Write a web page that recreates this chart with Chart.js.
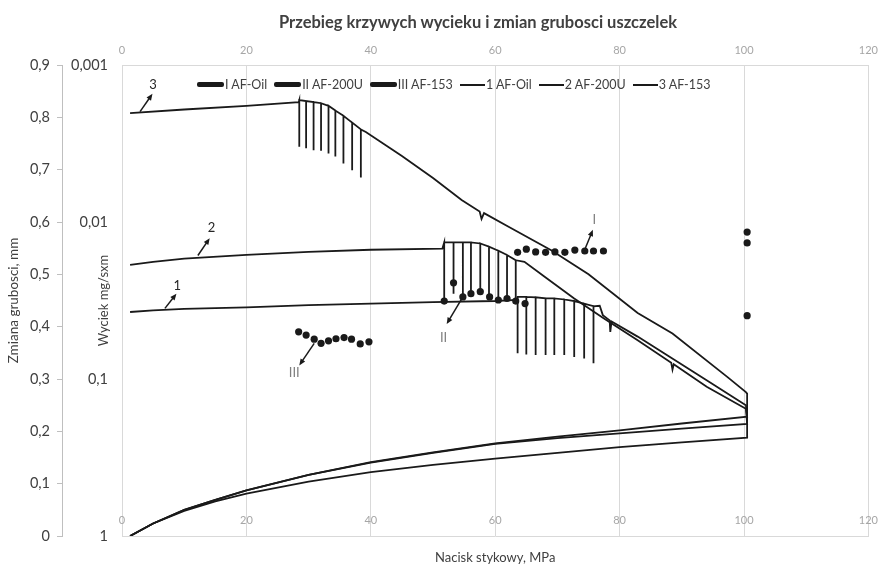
<!DOCTYPE html>
<html>
<head>
<meta charset="utf-8">
<script src="https://cdn.jsdelivr.net/npm/chart.js@4.4.1/dist/chart.umd.min.js"></script>
<style>
  html, body { margin: 0; padding: 0; background: #fff; overflow: hidden; }
  #wrap { position: relative; width: 887px; height: 567px; font-family: Lato, "Liberation Sans", sans-serif; }
  #title {
    position: absolute; top: 12px; left: 0; width: 956px; text-align: center;
    font-size: 16.5px; line-height: 20px; font-weight: bold; color: #404040;
  }
  #legend {
    position: absolute; top: 77px; left: 197px; display: flex; align-items: center;
    font-size: 12.5px; color: #404040; white-space: nowrap;
  }
  #legend .item { display: flex; align-items: center; margin-right: 7px; }
  #legend .thick { width: 27px; height: 5px; background: #1a1a1a; border-radius: 2px; margin-right: 1px; }
  #legend .thin { width: 25px; height: 2px; background: #1a1a1a; margin-right: 1px; }
</style>
</head>
<body>
<div id="wrap">
  <canvas id="chart" width="887" height="567"></canvas>
  <div id="title">Przebieg krzywych wycieku i zmian grubosci uszczelek</div>
  <div id="legend"></div>
</div>
<script>
// --- axis ticks ---
const thicknessTickLabels = ['0', '0,1', '0,2', '0,3', '0,4', '0,5', '0,6', '0,7', '0,8', '0,9'];
const leakTicks = [0.001, 0.01, 0.1, 1];
const leakTickLabels = ['0,001', '0,01', '0,1', '1'];

// --- thickness curves (left axis, mm) ---
// 1 AF-Oil
const oilHeadX = [1.3, 5, 10, 20, 30, 40, 50, 60, 63.5];
const oilHeadY = [0.428, 0.431, 0.434, 0.437, 0.441, 0.444, 0.447, 0.449, 0.451];
const oilSpikeX = [63.6, 65.0, 66.5, 68.1, 69.5, 71.1, 72.7, 74.3, 75.8];
const oilSpikeTop = [0.457, 0.457, 0.456, 0.454, 0.454, 0.452, 0.449, 0.444, 0.439];
const oilSpikeLow = [0.349, 0.347, 0.346, 0.346, 0.346, 0.346, 0.342, 0.339, 0.330];
const oilTailX = [76.8, 77.3, 78.4, 78.5, 78.7, 82.9, 89.3, 95, 100.3, 100.5, 90, 80, 70, 60, 50, 40, 30, 20, 15, 10, 5, 1.3];
const oilTailY = [0.440, 0.422, 0.412, 0.390, 0.410, 0.381, 0.333, 0.290, 0.250, 0.228, 0.215, 0.202, 0.190, 0.177, 0.160, 0.141, 0.117, 0.087, 0.069, 0.050, 0.024, 0];

// 2 AF-200U
const u200HeadX = [1.3, 5, 10, 20, 30, 40, 51.5];
const u200HeadY = [0.518, 0.524, 0.530, 0.537, 0.543, 0.547, 0.549];
const u200SpikeX = [51.8, 53.3, 54.8, 56.1, 57.6, 59.0, 60.5, 61.9, 63.3];
const u200SpikeTop = [0.561, 0.561, 0.561, 0.561, 0.559, 0.553, 0.545, 0.537, 0.527];
const u200SpikeLow = [0.449, 0.463, 0.457, 0.462, 0.467, 0.456, 0.452, 0.452, 0.445];
const u200TailX = [64.7, 68, 72.7, 77.3, 82.9, 88.3, 88.5, 88.7, 94, 100.3, 100.5, 90, 80, 70, 60, 50, 40, 30, 20, 15, 10, 5, 1.3];
const u200TailY = [0.524, 0.495, 0.454, 0.417, 0.374, 0.331, 0.318, 0.328, 0.285, 0.243, 0.214, 0.205, 0.196, 0.187, 0.176, 0.159, 0.140, 0.117, 0.087, 0.069, 0.050, 0.024, 0];

// 3 AF-153
const af153HeadX = [1.3, 10, 20, 28.4];
const af153HeadY = [0.808, 0.815, 0.822, 0.829];
const af153SpikeX = [28.5, 29.6, 30.8, 32.0, 33.2, 34.3, 35.6, 37.0, 38.4];
const af153SpikeTop = [0.833, 0.831, 0.829, 0.827, 0.822, 0.813, 0.803, 0.790, 0.777];
const af153SpikeLow = [0.744, 0.741, 0.737, 0.736, 0.731, 0.725, 0.712, 0.699, 0.685];
const af153TailX = [39.2, 45, 50, 54.6, 57.5, 57.8, 58.2, 62, 69, 75, 82.9, 88.5, 97.3, 100.3, 100.5, 100.5, 90, 80, 70, 60, 50, 40, 30, 20, 15, 10, 5, 1.3];
const af153TailY = [0.772, 0.726, 0.684, 0.642, 0.620, 0.606, 0.617, 0.592, 0.546, 0.500, 0.426, 0.387, 0.304, 0.275, 0.272, 0.188, 0.179, 0.170, 0.159, 0.148, 0.136, 0.122, 0.104, 0.081, 0.066, 0.048, 0.024, 0];

// --- leak measurements (log axis, mg/s*m) ---
const leakOilX = [63.6, 65.0, 66.5, 68.1, 69.6, 71.2, 72.8, 74.4, 75.8, 77.4, 100.5];
const leakOil = [0.0156, 0.0149, 0.0155, 0.0156, 0.0155, 0.0156, 0.0151, 0.0153, 0.0153, 0.0153, 0.0136];
const leak200X = [51.8, 53.3, 54.8, 56.1, 57.6, 59.1, 60.5, 61.9, 63.3, 64.8, 100.5];
const leak200 = [0.0319, 0.0244, 0.0300, 0.0286, 0.0278, 0.0300, 0.0314, 0.0307, 0.0319, 0.0331, 0.0116];
const leak153X = [28.4, 29.6, 30.9, 32.0, 33.2, 34.4, 35.7, 36.9, 38.3, 39.7, 100.5];
const leak153 = [0.0501, 0.0525, 0.0558, 0.0593, 0.0571, 0.0554, 0.0545, 0.0558, 0.0598, 0.0580, 0.0395];

// arrow callouts (x in MPa, y in left-axis units)
const arrowNotes = [
  { text: '3',   x1: 2.9,   y1: 0.811, x2: 4.9,  y2: 0.845, tx: 5.0,   ty: 0.862, color: '#262626' },
  { text: '2',   x1: 12.2,  y1: 0.536, x2: 14.1, y2: 0.569, tx: 14.4,  ty: 0.588, color: '#262626' },
  { text: '1',   x1: 6.9,   y1: 0.435, x2: 8.75, y2: 0.463, tx: 8.9,   ty: 0.479, color: '#262626' },
  { text: 'III', x1: 30.9,  y1: 0.368, x2: 28.5, y2: 0.326, tx: 27.7,  ty: 0.311, color: '#7f7f7f' },
  { text: 'II',  x1: 54.8,  y1: 0.457, x2: 52.2, y2: 0.405, tx: 51.7,  ty: 0.378, color: '#7f7f7f' },
  { text: 'I',   x1: 74.35, y1: 0.546, x2: 75.7, y2: 0.585, tx: 75.95, ty: 0.604, color: '#7f7f7f' }
];

function zip(xs, ys) {
  return xs.map((x, i) => ({ x: x, y: ys[i] }));
}

// head, then each relaxation spike (down and back up), then the rest of the loop
function buildCurve(headX, headY, spikeX, spikeTop, spikeLow, tailX, tailY) {
  const pts = zip(headX, headY);
  spikeX.forEach((x, i) => {
    pts.push({ x: x, y: spikeTop[i] }, { x: x, y: spikeLow[i] }, { x: x, y: spikeTop[i] });
  });
  return pts.concat(zip(tailX, tailY));
}

const lineColor = '#1a1a1a';

function thinLine(label, data) {
  return {
    label: label, data: data, xAxisID: 'x', yAxisID: 'y',
    showLine: true, borderColor: lineColor, borderWidth: 1.8,
    pointRadius: 0, fill: false, tension: 0
  };
}

function dotSeries(label, xs, ys) {
  return {
    label: label, data: zip(xs, ys), xAxisID: 'x', yAxisID: 'y2',
    showLine: false, pointRadius: 3.6, pointBackgroundColor: '#1a1a1a',
    pointBorderColor: '#1a1a1a', pointBorderWidth: 0
  };
}

const datasets = [
  dotSeries('I AF-Oil', leakOilX, leakOil),
  dotSeries('II AF-200U', leak200X, leak200),
  dotSeries('III AF-153', leak153X, leak153),
  thinLine('1 AF-Oil', buildCurve(oilHeadX, oilHeadY, oilSpikeX, oilSpikeTop, oilSpikeLow, oilTailX, oilTailY)),
  thinLine('2 AF-200U', buildCurve(u200HeadX, u200HeadY, u200SpikeX, u200SpikeTop, u200SpikeLow, u200TailX, u200TailY)),
  thinLine('3 AF-153', buildCurve(af153HeadX, af153HeadY, af153SpikeX, af153SpikeTop, af153SpikeLow, af153TailX, af153TailY))
];

// legend in the plot area, like the original
const legendEl = document.getElementById('legend');
datasets.forEach((ds, i) => {
  const item = document.createElement('div');
  item.className = 'item';
  const swatch = document.createElement('span');
  swatch.className = i < 3 ? 'thick' : 'thin';
  const txt = document.createElement('span');
  txt.textContent = ds.label;
  item.appendChild(swatch);
  item.appendChild(txt);
  legendEl.appendChild(item);
});

const arrowPlugin = {
  id: 'arrowNotes',
  afterDatasetsDraw(chart) {
    const { ctx, scales } = chart;
    ctx.save();
    arrowNotes.forEach(n => {
      const x1 = scales.x.getPixelForValue(n.x1), y1 = scales.y.getPixelForValue(n.y1);
      const x2 = scales.x.getPixelForValue(n.x2), y2 = scales.y.getPixelForValue(n.y2);
      const ang = Math.atan2(y2 - y1, x2 - x1);
      const head = 7;
      ctx.strokeStyle = '#1a1a1a';
      ctx.fillStyle = '#1a1a1a';
      ctx.lineWidth = 1.5;
      ctx.beginPath();
      ctx.moveTo(x1, y1);
      ctx.lineTo(x2 - Math.cos(ang) * head * 0.6, y2 - Math.sin(ang) * head * 0.6);
      ctx.stroke();
      ctx.beginPath();
      ctx.moveTo(x2, y2);
      ctx.lineTo(x2 - head * Math.cos(ang - 0.4), y2 - head * Math.sin(ang - 0.4));
      ctx.lineTo(x2 - head * Math.cos(ang + 0.4), y2 - head * Math.sin(ang + 0.4));
      ctx.closePath();
      ctx.fill();
      ctx.fillStyle = n.color;
      ctx.font = '13px Lato, "Liberation Sans", sans-serif';
      ctx.textAlign = 'center';
      ctx.textBaseline = 'middle';
      ctx.fillText(n.text, scales.x.getPixelForValue(n.tx), scales.y.getPixelForValue(n.ty));
    });
    ctx.restore();
  }
};

Chart.defaults.font.family = 'Lato, "Liberation Sans", sans-serif';

new Chart(document.getElementById('chart'), {
  type: 'scatter',
  data: { datasets: datasets },
  plugins: [arrowPlugin],
  options: {
    responsive: false,
    animation: false,
    layout: { padding: { top: 31, right: 15, left: 0, bottom: 0 } },
    plugins: {
      legend: { display: false },
      tooltip: { enabled: false }
    },
    scales: {
      x: {
        type: 'linear', position: 'bottom', min: 0, max: 120,
        ticks: { stepSize: 20, mirror: true, padding: 9, color: '#a6a6a6', font: { size: 11 } },
        grid: { color: '#d9d9d9', drawTicks: false },
        border: { color: '#d9d9d9' },
        title: {
          display: true, text: 'Nacisk stykowy, MPa', color: '#404040',
          font: { size: 13 }, padding: { top: 0, bottom: 1 }
        },
        afterFit(scale) { scale.height = 31; }
      },
      x2: {
        type: 'linear', position: 'top', min: 0, max: 120,
        ticks: { stepSize: 20, padding: 8, color: '#a6a6a6', font: { size: 11 } },
        grid: { display: false, drawTicks: false },
        border: { display: true, color: '#d9d9d9' },
        afterFit(scale) { scale.height = 34; }
      },
      y: {
        type: 'linear', position: 'left', min: 0, max: 0.9, weight: 2,
        ticks: {
          stepSize: 0.1, padding: 7, color: '#404040', font: { size: 14.5 },
          callback: (v, i) => thicknessTickLabels[i]
        },
        grid: { drawOnChartArea: false, tickLength: 5, color: '#bfbfbf' },
        border: { color: '#bfbfbf' },
        title: {
          display: true, text: 'Zmiana grubosci, mm', color: '#404040',
          font: { size: 13.5 }, padding: { top: 6, bottom: 0 }
        },
        afterFit(scale) { scale.width = 62; }
      },
      y2: {
        type: 'logarithmic', position: 'left', reverse: true, min: 0.001, max: 1, weight: 1,
        afterBuildTicks(scale) { scale.ticks = leakTicks.map(v => ({ value: v })); },
        ticks: {
          padding: 6, color: '#404040', font: { size: 14.5 },
          callback: (v, i) => leakTickLabels[i]
        },
        grid: { display: false },
        border: { display: false },
        title: {
          display: true, text: 'Wyciek mg/sxm', color: '#404040',
          font: { size: 13 }, padding: { top: 34, bottom: 0 }
        },
        afterFit(scale) { scale.width = 60; }
      }
    }
  }
});
</script>
</body>
</html>
